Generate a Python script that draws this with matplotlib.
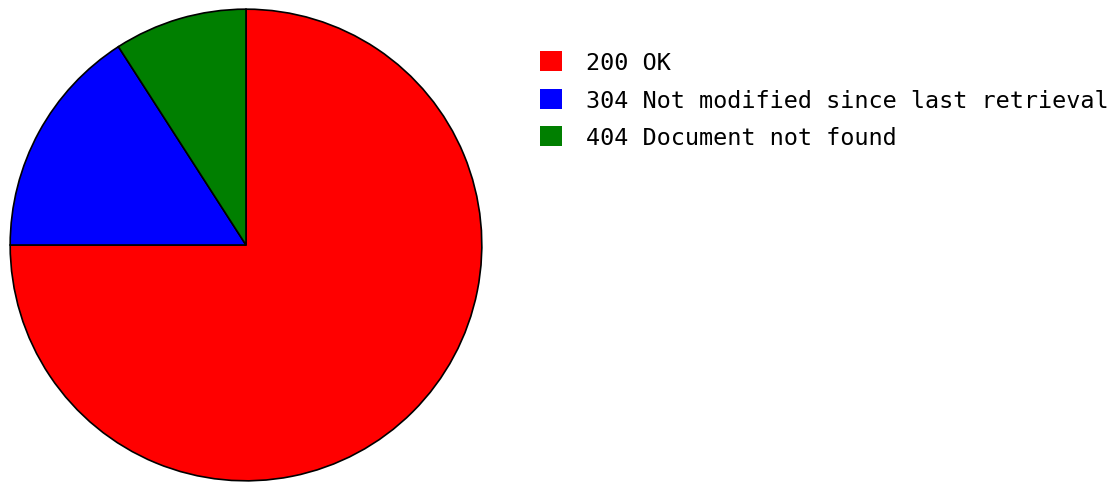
import matplotlib
matplotlib.use("Agg")
import matplotlib.pyplot as plt
from matplotlib.patches import Patch

# status code share of requests (%)
labels = ["200 OK", "304 Not modified since last retrieval", "404 Document not found"]
shares = [75.0, 15.9, 9.1]
colors = ["#ff0000", "#0000ff", "#007f00"]

W, H = 1112, 485
fig = plt.figure(figsize=(W / 100, H / 100), dpi=100)

# pie: centre (246, 246) px, radius 237 px
cx, cy, r = 246, 246, 237
ax = fig.add_axes([(cx - r) / W, (H - cy - r) / H, 2 * r / W, 2 * r / H])
ax.pie(shares, colors=colors, startangle=90, counterclock=False, radius=1,
       wedgeprops=dict(edgecolor="black", linewidth=1.2))
ax.set_xlim(-1.005, 1.005)
ax.set_ylim(-1.005, 1.005)
ax.set_aspect("equal")
ax.axis("off")

handles = [Patch(facecolor=c, edgecolor="none") for c in colors]
fig.legend(handles, labels, loc="upper left", bbox_to_anchor=(540 / W, 1 - 52 / H),
           frameon=False, borderpad=0, borderaxespad=0,
           prop=dict(family="DejaVu Sans Mono", size=16.9),
           handlelength=0.94, handleheight=0.94, handletextpad=1.0,
           labelspacing=0.62)

fig.savefig("out.png", dpi=100)
